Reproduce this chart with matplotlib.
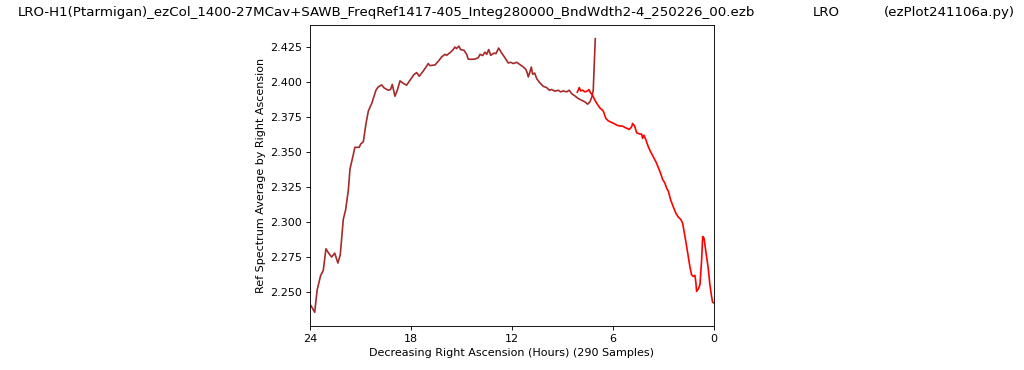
import matplotlib
matplotlib.use('Agg')
import matplotlib.pyplot as plt

# first pass of the scan (RA 24 -> ~7 h), drawn in brown
ra_brown = [23.94, 23.72, 23.57, 23.37, 23.21, 23.05, 22.89, 22.71, 22.53, 22.34,
            22.20, 22.02, 21.88, 21.72, 21.62, 21.43, 21.33, 21.07, 20.99, 20.83,
            20.67, 20.53, 20.33, 20.08, 19.94, 19.74, 19.59, 19.35, 19.21, 19.11,
            18.95, 18.81, 18.65, 18.49, 18.26, 18.06, 17.82, 17.66, 17.51, 17.27,
            16.97, 16.87, 16.57, 16.38, 16.18, 15.98, 15.88, 15.64, 15.49, 15.39,
            15.29, 15.15, 15.05, 14.85, 14.69, 14.60, 14.40, 14.20, 14.00, 13.90,
            13.74, 13.60, 13.50, 13.38, 13.26, 13.07, 12.95, 12.79, 12.61, 12.42,
            12.22, 12.08, 11.92, 11.72, 11.52, 11.33, 11.17, 11.09, 11.03, 10.93,
            10.85, 10.77, 10.65, 10.53, 10.34, 10.14, 9.94, 9.78, 9.64, 9.45,
            9.25, 9.11, 8.95, 8.75, 8.60, 8.46, 8.26, 8.06, 7.86, 7.66,
            7.50, 7.37, 7.25, 7.17, 7.05]
ref_brown = [2.2400, 2.2352, 2.2514, 2.2614, 2.2652, 2.2807, 2.2776, 2.2748, 2.2776, 2.2705,
             2.2764, 2.3019, 2.3086, 2.3229, 2.3380, 2.3479, 2.3534, 2.3534, 2.3557, 2.3574,
             2.3705, 2.3795, 2.3848, 2.3943, 2.3967, 2.3981, 2.3959, 2.3943, 2.3948, 2.3984,
             2.3900, 2.3943, 2.4010, 2.3995, 2.3979, 2.4014, 2.4055, 2.4069, 2.4043, 2.4080,
             2.4134, 2.4119, 2.4124, 2.4150, 2.4181, 2.4200, 2.4193, 2.4216, 2.4234, 2.4252,
             2.4241, 2.4259, 2.4234, 2.4229, 2.4200, 2.4166, 2.4164, 2.4166, 2.4176, 2.4200,
             2.4191, 2.4216, 2.4200, 2.4234, 2.4193, 2.4209, 2.4205, 2.4245, 2.4209, 2.4176,
             2.4138, 2.4143, 2.4134, 2.4143, 2.4126, 2.4110, 2.4091, 2.4066, 2.4038, 2.4074,
             2.4109, 2.4057, 2.4066, 2.4026, 2.3995, 2.3971, 2.3962, 2.3943, 2.3948, 2.3936,
             2.3943, 2.3931, 2.3938, 2.3931, 2.3943, 2.3919, 2.3902, 2.3883, 2.3871, 2.3859,
             2.3843, 2.3859, 2.3895, 2.3943, 2.4312]

# second pass (RA ~8 -> 0 h), drawn in red
ra_red = [8.12, 8.00, 7.92, 7.80, 7.66, 7.50, 7.43, 7.33, 7.21, 7.07,
          6.93, 6.77, 6.58, 6.42, 6.28, 6.08, 5.94, 5.78, 5.58, 5.42,
          5.29, 5.15, 5.03, 4.89, 4.83, 4.71, 4.59, 4.40, 4.30, 4.24,
          4.16, 4.04, 3.90, 3.76, 3.61, 3.45, 3.31, 3.17, 3.05, 2.91,
          2.81, 2.71, 2.57, 2.42, 2.26, 2.12, 1.98, 1.86, 1.72, 1.59,
          1.43, 1.33, 1.23, 1.13, 1.07, 1.03, 0.93, 0.83, 0.73, 0.67,
          0.59, 0.48, 0.34, 0.24, 0.14, 0.08, 0.00]
ref_red = [2.3929, 2.3962, 2.3938, 2.3943, 2.3931, 2.3938, 2.3948, 2.3924, 2.3907, 2.3871,
           2.3843, 2.3815, 2.3795, 2.3741, 2.3724, 2.3712, 2.3705, 2.3693, 2.3686, 2.3686,
           2.3676, 2.3669, 2.3662, 2.3681, 2.3705, 2.3686, 2.3638, 2.3629, 2.3629, 2.3598,
           2.3621, 2.3586, 2.3538, 2.3502, 2.3467, 2.3431, 2.3391, 2.3348, 2.3305, 2.3276,
           2.3241, 2.3220, 2.3157, 2.3109, 2.3062, 2.3034, 2.3019, 2.2991, 2.2895, 2.2800,
           2.2681, 2.2621, 2.2609, 2.2617, 2.2562, 2.2502, 2.2519, 2.2550, 2.2729, 2.2895,
           2.2884, 2.2788, 2.2669, 2.2550, 2.2466, 2.2424, 2.2419]

x_ticks = [24, 18, 12, 6, 0]
n_samples = 290

fig = plt.figure(figsize=(12.8, 4.625), dpi=80)
ax = fig.add_axes([0.3027, 0.1189, 0.3945, 0.8135])

ax.plot(ra_brown, ref_brown, color='brown', linewidth=1.5)
ax.plot(ra_red, ref_red, color='red', linewidth=1.5)

ax.set_xlim(24, 0)
ax.set_xticks(x_ticks)
ax.set_xticklabels([str(t) for t in x_ticks])
ax.set_xlabel(f'Decreasing Right Ascension (Hours) ({n_samples} Samples)')
ax.set_ylabel('Ref Spectrum Average by Right Ascension')

fig.text(0.017, 0.965,
         'LRO-H1(Ptarmigan)_ezCol_1400-27MCav+SAWB_FreqRef1417-405_Integ280000_BndWdth2-4_250226_00.ezb',
         fontsize=12, va='center', ha='left')
fig.text(0.794, 0.965, 'LRO', fontsize=12, va='center', ha='left')
fig.text(0.863, 0.965, '(ezPlot241106a.py)', fontsize=12, va='center', ha='left')

fig.savefig('out.png', dpi=80)
